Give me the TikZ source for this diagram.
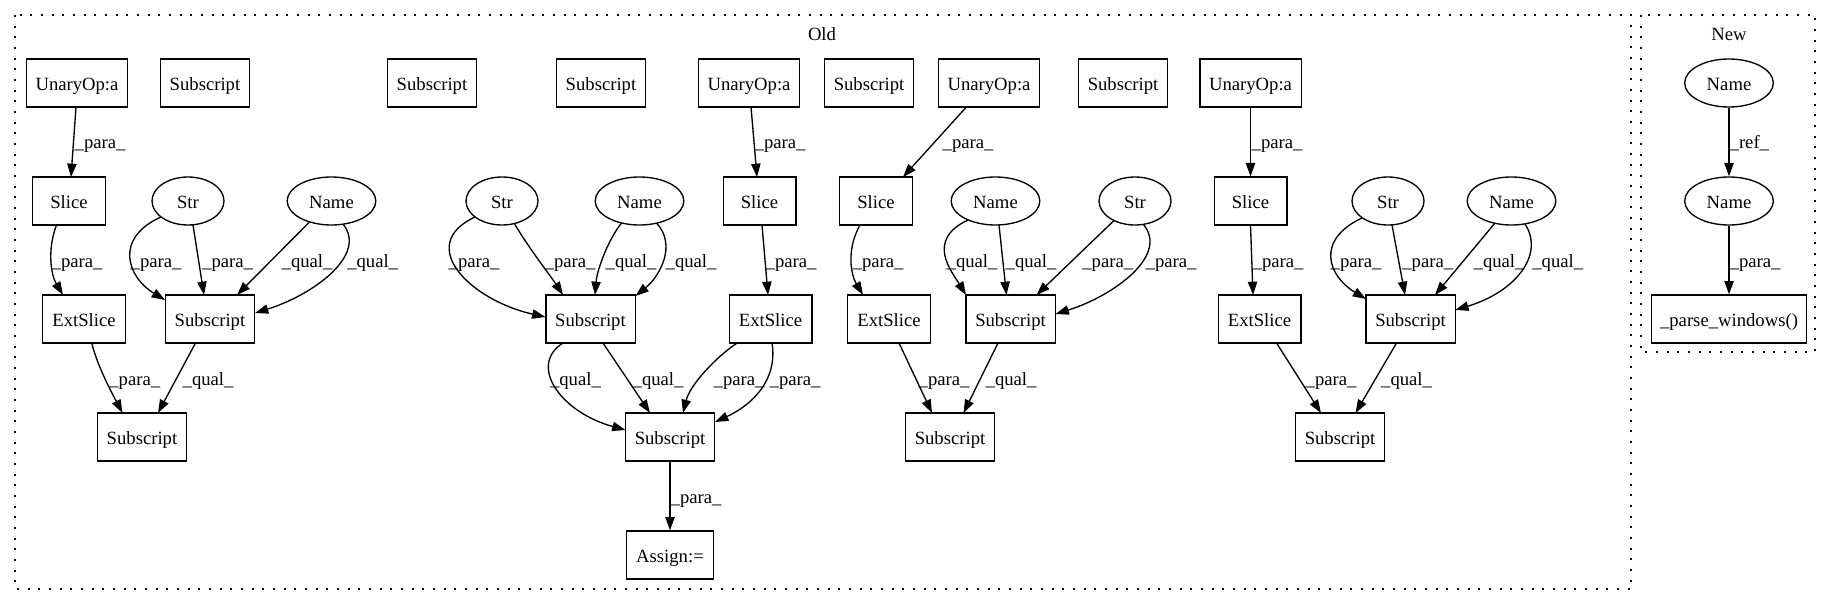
\documentclass[tikz,border=0pt]{standalone}
\usepackage{fontspec}
\setmainfont{Liberation Serif}
\usetikzlibrary{arrows.meta,calc,shapes.geometric,backgrounds}
\newcommand{\gvfont}{\fontsize{14pt}{16pt}\selectfont}
\tikzset{
  box/.style={draw, line width=1pt, fill=white, rectangle, inner sep=0pt, minimum height=36pt, text height=12.5pt, text depth=1.5pt, font=\gvfont},
  oval/.style={draw, line width=1pt, fill=white, ellipse, inner sep=0pt, minimum height=36pt, text height=12.5pt, text depth=1.5pt, font=\gvfont},
  wU/.style={minimum width=76pt},
  wS/.style={minimum width=67pt},
  wSl/.style={minimum width=54.5pt},
  wE/.style={minimum width=62pt},
  wStr/.style={minimum width=54pt},
  wNm/.style={minimum width=66.5pt},
  edge/.style={line width=1pt, -{Triangle[length=10pt,width=7pt]}},
  lab/.style={anchor=base west, inner sep=0pt, font=\gvfont},
  cluster/.style={draw, line width=1pt, dash pattern=on 1.5pt off 6.5pt},
  clab/.style={inner sep=0pt, font=\gvfont},
}
\begin{document}
\begin{tikzpicture}[x=0.75pt,y=-0.75pt]
\useasboundingbox (0,0) rectangle (1833,606);
% cluster labels
\node[clab] (oldlab) at (822,34) {Old};
\node[clab] (newlab) at (1729,34) {New};
% row 1
\node[box,wU] (U1) at (77,83) {UnaryOp:a};
\node[box,wS] (S1) at (205,83) {Subscript};
\node[box,wS] (S2) at (432,83) {Subscript};
\node[box,wS] (S3) at (601,83) {Subscript};
\node[box,wU] (U2) at (749,83) {UnaryOp:a};
\node[box,wS] (S4) at (869,83) {Subscript};
\node[box,wU] (U3) at (989,83) {UnaryOp:a};
\node[box,wS] (S5) at (1123,83) {Subscript};
\node[box,wU] (U4) at (1250.5,83) {UnaryOp:a};
\node[oval,wNm] (NN1) at (1729,83) {Name};
% row 2
\node[box,wSl] (Sl1) at (69,201) {Slice};
\node[oval,wStr] (Str1) at (188,201) {Str};
\node[oval,wNm] (Nm1) at (331.5,201) {Name};
\node[oval,wStr] (Str2) at (502,201) {Str};
\node[oval,wNm] (Nm2) at (639.5,201) {Name};
\node[box,wSl] (Sl2) at (759.5,201) {Slice};
\node[box,wSl] (Sl3) at (876,201) {Slice};
\node[oval,wNm] (Nm3) at (995.5,201) {Name};
\node[oval,wStr] (Str3) at (1135,201) {Str};
\node[box,wSl] (Sl4) at (1250.5,201) {Slice};
\node[oval,wStr] (Str4) at (1388,201) {Str};
\node[oval,wNm] (Nm4) at (1511.5,201) {Name};
\node[oval,wNm] (NN2) at (1729,201) {Name};
% row 3
\node[box,wE] (Ext1) at (84,319) {ExtSlice};
\node[box,wS] (SubA) at (210,319) {Subscript};
\node[box,wS] (SubB) at (590.5,319) {Subscript};
\node[box,wE] (Ext2) at (770.5,319) {ExtSlice};
\node[box,wE] (Ext3) at (889,319) {ExtSlice};
\node[box,wS] (SubC) at (1010.5,319) {Subscript};
\node[box,wE] (Ext4) at (1259.5,319) {ExtSlice};
\node[box,wS] (SubD) at (1410.5,319) {Subscript};
\node[box,minimum width=116pt] (PW) at (1729,319) {\_parse\_windows()};
% row 4
\node[box,wS] (SubE) at (142,437) {Subscript};
\node[box,wS] (SubF) at (670,437) {Subscript};
\node[box,wS] (SubG) at (950,437) {Subscript};
\node[box,wS] (SubH) at (1340,437) {Subscript};
% row 5
\node[box,minimum width=65.6pt] (Asg) at (670,555) {Assign:=};

\begin{scope}[on background layer]
\draw[cluster] (15,15) rectangle (1631,589);
\draw[cluster] (1641,15) rectangle (1815,352);
% group 1
\draw[edge] ($(U1)+(-1,24)$) -- ($(Sl1)+(2,-24)$) node[lab] at (74,149) {\_para\_};
\draw[edge] ($(Sl1)+(-12.5,24)$) .. controls (47,250) and (51,275) .. ($(Ext1)+(-21,-24)$) node[lab] at (51,267) {\_para\_};
\draw[edge] ($(Str1)+(-27,16)$) .. controls (114,238) and (127,277) .. ($(SubA)+(-45,-19)$) node[lab] at (130,267) {\_para\_};
\draw[edge] ($(Str1)+(5,24)$) -- ($(SubA)+(-6,-24)$) node[lab] at (201.6,267) {\_para\_};
\draw[edge] ($(Nm1)+(-22,21)$) -- ($(SubA)+(27,-24)$) node[lab] at (281,267) {\_qual\_};
\draw[edge] ($(Nm1)+(11.5,23)$) .. controls (368,255) and (313,295) .. ($(SubA)+(45,-6)$) node[lab] at (346.6,267) {\_qual\_};
\draw[edge] ($(Ext1)+(7.7,24)$) .. controls (98,368) and (113,395) .. ($(SubE)+(-19.5,-24)$) node[lab] at (108.7,385) {\_para\_};
\draw[edge] ($(SubA)+(-14.5,24)$) -- ($(SubE)+(16,-24)$) node[lab] at (182,385) {\_qual\_};
% group 2
\draw[edge] ($(U2)+(2,24)$) -- ($(Sl2)+(-2.5,-24)$) node[lab] at (754,149) {\_para\_};
\draw[edge] ($(Str2)+(-27,16)$) .. controls (415,245) and (470,300) .. ($(SubB)+(-45,-2)$) node[lab] at (448,267) {\_para\_};
\draw[edge] ($(Str2)+(12,22)$) .. controls (530,250) and (550,275) .. ($(SubB)+(-27.5,-24)$) node[lab] at (544,267) {\_para\_};
\draw[edge] ($(Nm2)+(-18,22)$) .. controls (608,240) and (597,270) .. ($(SubB)+(4.5,-24)$) node[lab] at (605,267) {\_qual\_};
\draw[edge] ($(Nm2)+(17,22)$) .. controls (677,245) and (660,276) .. ($(SubB)+(45,-23)$) node[lab] at (665,267) {\_qual\_};
\draw[edge] ($(Sl2)+(2.5,24)$) -- ($(Ext2)+(-2.5,-24)$) node[lab] at (765,267) {\_para\_};
\draw[edge] ($(SubB)+(-27.5,24)$) .. controls (528,365) and (560,412) .. ($(SubF)+(-44.5,-7)$) node[lab] at (549.4,385) {\_qual\_};
\draw[edge] ($(SubB)+(12.5,24)$) -- ($(SubF)+(-20,-24)$) node[lab] at (632,385) {\_qual\_};
\draw[edge] ($(Ext2)+(-33.5,24)$) .. controls (715,358) and (690,385) .. ($(SubF)+(13,-24)$) node[lab] at (713,385) {\_para\_};
\draw[edge] ($(Ext2)+(1.5,24)$) .. controls (778,380) and (752,405) .. ($(SubF)+(45,-15)$) node[lab] at (769,385) {\_para\_};
\draw[edge] (SubF) -- (Asg) node[lab] at (670,503) {\_para\_};
% group 3
\draw[edge] ($(U3)+(-22.6,24)$) -- ($(Sl3)+(27,-24)$) node[lab] at (942,149) {\_para\_};
\draw[edge] ($(Sl3)+(-16,24)$) .. controls (846,250) and (851,275) .. ($(Ext3)+(-26,-24)$) node[lab] at (852,267) {\_para\_};
\draw[edge] ($(Nm3)+(-27.5,19)$) .. controls (925,240) and (952,272) .. ($(SubC)+(-44.5,-24)$) node[lab] at (946,267) {\_qual\_};
\draw[edge] ($(Nm3)+(3.5,24)$) -- ($(SubC)+(-4,-24)$) node[lab] at (1005,267) {\_qual\_};
\draw[edge] ($(Str3)+(-21,19.5)$) -- ($(SubC)+(26,-24)$) node[lab] at (1081.7,267) {\_para\_};
\draw[edge] ($(Str3)+(8,23)$) .. controls (1170,255) and (1113.5,296) .. ($(SubC)+(45,-5)$) node[lab] at (1145,267) {\_para\_};
\draw[edge] ($(Ext3)+(10,24)$) -- ($(SubG)+(-18,-24)$) node[lab] at (918,385) {\_para\_};
\draw[edge] ($(SubC)+(-12.5,24)$) -- ($(SubG)+(13.5,-24)$) node[lab] at (985,385) {\_qual\_};
% group 4
\draw[edge] (U4) -- (Sl4) node[lab] at (1251,149) {\_para\_};
\draw[edge] ($(Sl4)+(0,24)$) -- ($(Ext4)+(-6.5,-24)$) node[lab] at (1252,267) {\_para\_};
\draw[edge] ($(Str4)+(-26,17)$) .. controls (1315,240) and (1328,276) .. ($(SubD)+(-44.5,-20)$) node[lab] at (1330,267) {\_para\_};
\draw[edge] ($(Str4)+(4,24)$) -- ($(SubD)+(-5.5,-24)$) node[lab] at (1401.7,267) {\_para\_};
\draw[edge] ($(Nm4)+(-16.5,22)$) -- ($(SubD)+(24.5,-24)$) node[lab] at (1473,267) {\_qual\_};
\draw[edge] ($(Nm4)+(13.5,23)$) .. controls (1545,255) and (1515,292) .. ($(SubD)+(44.7,-9)$) node[lab] at (1531.7,267) {\_qual\_};
\draw[edge] ($(Ext4)+(17,24)$) -- ($(SubH)+(-19,-24)$) node[lab] at (1305,385) {\_para\_};
\draw[edge] ($(SubD)+(-14,24)$) -- ($(SubH)+(15.5,-24)$) node[lab] at (1380.5,385) {\_qual\_};
% new
\draw[edge] (NN1) -- (NN2) node[lab] at (1729,149) {\_ref\_};
\draw[edge] (NN2) -- (PW) node[lab] at (1729,267) {\_para\_};
\end{scope}
\end{tikzpicture}
\end{document}
